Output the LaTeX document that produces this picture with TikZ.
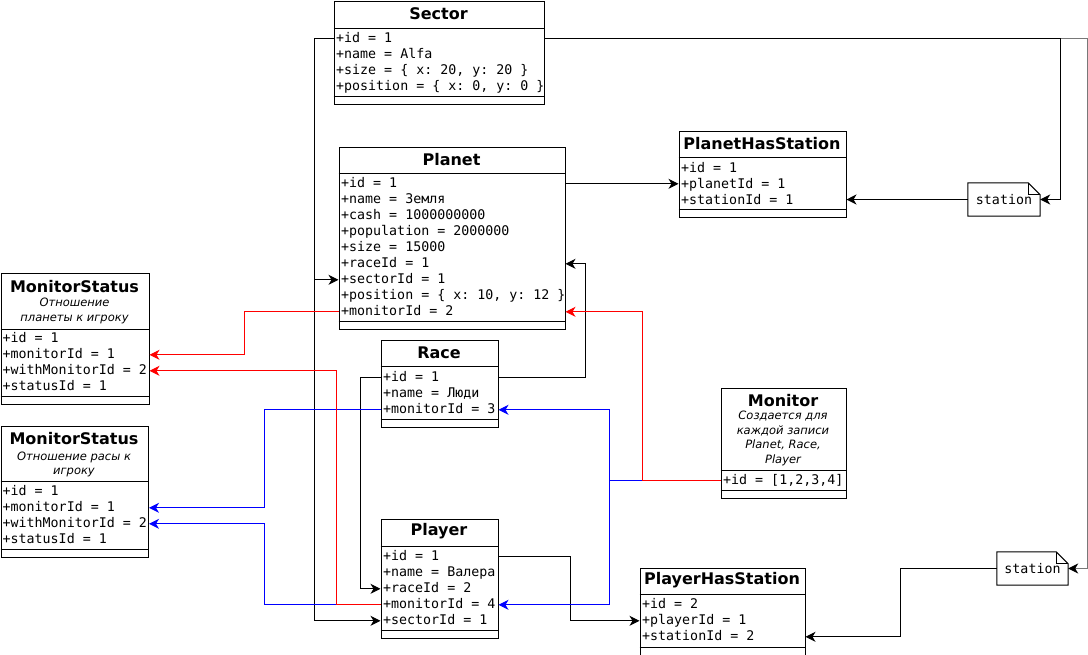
\documentclass[tikz,border=0pt]{standalone}
\usepackage{fontspec}
\setmainfont{DejaVu Sans}
\setmonofont{DejaVu Sans Mono}
\usetikzlibrary{arrows.meta}
\newcommand\ttlfont{\fontsize{16}{19}\selectfont\bfseries}
\newcommand\attrfont{\fontsize{13.3}{16}\selectfont\ttfamily}
\newcommand\cmtfont{\fontsize{11.5}{14.6}\selectfont\itshape}
\definecolor{edgegray}{RGB}{120,120,120}
\begin{document}
\begin{tikzpicture}[x=1pt,y=-1pt,
  box/.style={draw, line width=1pt, fill=white, inner sep=0pt, anchor=north west},
  ttl/.style={font=\ttlfont, inner sep=0pt},
  attr/.style={font=\attrfont, anchor=west, inner sep=0pt, text height=10pt, text depth=3pt, yshift=-0.8pt},
  cmt/.style={font=\cmtfont, align=center, inner sep=0pt},
  sep/.style={line width=1pt},
  notebox/.style={font=\attrfont, inner sep=0pt, text height=10pt, text depth=3pt},
  conn/.style={line width=1pt, -{Stealth[length=10pt,width=10pt,inset=3pt,color=black]}},
  redc/.style={line width=1pt, draw=red, -{Stealth[length=10pt,width=10pt,inset=3pt,color=red]}},
  bluec/.style={line width=1pt, draw=blue, -{Stealth[length=10pt,width=10pt,inset=3pt,color=blue]}}]
\useasboundingbox (0,0) rectangle (1088,654);

% ---- Sector
\node[box, minimum width=210pt, minimum height=103pt] (sector) at (333.5,0.5) {};
\node[ttl] (sector-t) at (438.5,13.5) {Sector};
\draw[sep] (333.5,28) -- (543.5,28);
\draw[sep] (333.5,96) -- (543.5,96);
\node[attr] (sec-id)   at (336,38) {+id = 1};
\node[attr] (sec-name) at (336,54) {+name = Alfa};
\node[attr] (sec-size) at (336,70) {+size = \{ x: 20, y: 20 \}};
\node[attr] (sec-pos)  at (336,86) {+position = \{ x: 0, y: 0 \}};

% ---- Planet
\node[box, minimum width=226pt, minimum height=182.5pt] (planet) at (338.5,146.5) {};
\node[ttl] (planet-t) at (451.5,159.5) {Planet};
\draw[sep] (338.5,173.5) -- (564.5,173.5);
\draw[sep] (338.5,321.5) -- (564.5,321.5);
\node[attr] (pl-id)     at (341,183) {+id = 1};
\node[attr] (pl-name)   at (341,199) {+name = Земля};
\node[attr] (pl-cash)   at (341,215) {+cash = 1000000000};
\node[attr] (pl-pop)    at (341,231) {+population = 2000000};
\node[attr] (pl-size)   at (341,247) {+size = 15000};
\node[attr] (pl-race)   at (341,263) {+raceId = 1};
\node[attr] (pl-sector) at (341,279) {+sectorId = 1};
\node[attr] (pl-pos)    at (341,295) {+position = \{ x: 10, y: 12 \}};
\node[attr] (pl-mon)    at (341,311) {+monitorId = 2};

% ---- PlanetHasStation
\node[box, minimum width=167pt, minimum height=86.5pt] (phs) at (678.5,130.5) {};
\node[ttl] (phs-t) at (762,143.5) {PlanetHasStation};
\draw[sep] (678.5,157.5) -- (845.5,157.5);
\draw[sep] (678.5,209.5) -- (845.5,209.5);
\node[attr] (ph-id)      at (681,168) {+id = 1};
\node[attr] (ph-planet)  at (681,184) {+planetId = 1};
\node[attr] (ph-station) at (681,200) {+stationId = 1};

% ---- MonitorStatus (planet)
\node[box, minimum width=148pt, minimum height=131.5pt] (ms1) at (0.5,272.5) {};
\node[ttl] (ms1-t) at (74.5,287) {MonitorStatus};
\node[cmt] (ms1-c) at (74.5,311) {Отношение\\планеты к игроку};
\draw[sep] (0.5,329.5) -- (148.5,329.5);
\draw[sep] (0.5,396.5) -- (148.5,396.5);
\node[attr] (m1-id)     at (2.5,338) {+id = 1};
\node[attr] (m1-mon)    at (2.5,354) {+monitorId = 1};
\node[attr] (m1-with)   at (2.5,370) {+withMonitorId = 2};
\node[attr] (m1-status) at (2.5,386) {+statusId = 1};

% ---- MonitorStatus (race)
\node[box, minimum width=147.5pt, minimum height=131.5pt] (ms2) at (0.5,425.5) {};
\node[ttl] (ms2-t) at (74,439) {MonitorStatus};
\node[cmt] (ms2-c) at (74,464.5) {Отношение расы к\\игроку};
\draw[sep] (0.5,481.5) -- (148,481.5);
\draw[sep] (0.5,549.5) -- (148,549.5);
\node[attr] (m2-id)     at (2.5,491) {+id = 1};
\node[attr] (m2-mon)    at (2.5,507) {+monitorId = 1};
\node[attr] (m2-with)   at (2.5,523) {+withMonitorId = 2};
\node[attr] (m2-status) at (2.5,539) {+statusId = 1};

% ---- Race
\node[box, minimum width=117pt, minimum height=87.5pt] (race) at (380.5,339.5) {};
\node[ttl] (race-t) at (439,352.5) {Race};
\draw[sep] (380.5,366.5) -- (497.5,366.5);
\draw[sep] (380.5,419.5) -- (497.5,419.5);
\node[attr] (rc-id)   at (383,377) {+id = 1};
\node[attr] (rc-name) at (383,393) {+name = Люди};
\node[attr] (rc-mon)  at (383,409) {+monitorId = 3};

% ---- Player
\node[box, minimum width=117pt, minimum height=119.5pt] (player) at (380.5,518.5) {};
\node[ttl] (player-t) at (439,531.5) {Player};
\draw[sep] (380.5,546.5) -- (497.5,546.5);
\draw[sep] (380.5,630.5) -- (497.5,630.5);
\node[attr] (pr-id)     at (383,556) {+id = 1};
\node[attr] (pr-name)   at (383,572) {+name = Валера};
\node[attr] (pr-race)   at (383,588) {+raceId = 2};
\node[attr] (pr-mon)    at (383,604) {+monitorId = 4};
\node[attr] (pr-sector) at (383,620) {+sectorId = 1};

% ---- Monitor
\node[box, minimum width=125pt, minimum height=110.5pt] (monitor) at (720.5,387.5) {};
\node[ttl] (monitor-t) at (783,400.5) {Monitor};
\node[cmt] (monitor-c) at (783,438.5) {Создается для\\каждой записи\\Planet, Race,\\Player};
\draw[sep] (720.5,470.5) -- (845.5,470.5);
\draw[sep] (720.5,490.5) -- (845.5,490.5);
\node[attr] (mn-id) at (723,480) {+id = [1,2,3,4]};

% ---- PlayerHasStation
\node[box, minimum width=165pt, minimum height=88pt] (phst) at (639.5,567.5) {};
\node[ttl] (phst-t) at (722,580.5) {PlayerHasStation};
\draw[sep] (639.5,594.5) -- (804.5,594.5);
\draw[sep] (639.5,647.5) -- (804.5,647.5);
\node[attr] (ps-id)      at (642,604) {+id = 2};
\node[attr] (ps-player)  at (642,620) {+playerId = 1};
\node[attr] (ps-station) at (642,636) {+stationId = 2};

% ---- station notes
\node[notebox, minimum width=72pt, minimum height=33pt] (st1) at (1004,199.5) {station};
\draw[line width=1pt, fill=white] (st1.north west) -- ([xshift=-12pt]st1.north east)
  -- ([yshift=-12pt]st1.north east) -- (st1.south east) -- (st1.south west) -- cycle;
\draw[line width=1pt] ([xshift=-12pt]st1.north east) |- ([yshift=-12pt]st1.north east);
\node[notebox] at ([yshift=-1.5pt]st1) {station};

\node[notebox, minimum width=71pt, minimum height=33pt] (st2) at (1032.5,568.5) {station};
\draw[line width=1pt, fill=white] (st2.north west) -- ([xshift=-12pt]st2.north east)
  -- ([yshift=-12pt]st2.north east) -- (st2.south east) -- (st2.south west) -- cycle;
\draw[line width=1pt] ([xshift=-12pt]st2.north east) |- ([yshift=-12pt]st2.north east);
\node[notebox] at ([yshift=-1pt]st2) {station};

% ---- black references
\draw[conn, draw=edgegray] (sector.east |- sec-id) -| ([xshift=19.5pt]st2.east) -- (st2.east);
\draw[conn] (sector.east |- sec-id) -| ([xshift=20pt]st1.east) -- (st1.east);
\draw[conn] (sector.west |- sec-id) -- ++(-19.5,0) |- (planet.west |- pl-sector);
\draw[conn] (sector.west |- sec-id) -- ++(-19.5,0) |- (player.west |- pr-sector);
\draw[conn] (planet.east |- pl-id) -- (phs.west |- pl-id);
\draw[conn] (st1.west) -- (phs.east |- st1.west);
\draw[conn] (race.east |- rc-id) -- ++(86.5,0) |- (planet.east |- pl-race);
\draw[conn] (race.west |- rc-id) -- ++(-20.5,0) |- (player.west |- pr-race);
\draw[conn] (player.east |- pr-id) -- ++(71.5,0) |- (phst.west |- ps-player);
\draw[conn] (st2.west) -- ++(-96,0) |- (phst.east |- ps-station);

% ---- monitor links (blue: race/player, red: planet)
\draw[bluec] (monitor.west |- mn-id) -- ++(-111.5,0) |- (race.east |- rc-mon);
\draw[bluec] (monitor.west |- mn-id) -- ++(-111.5,0) |- (player.east |- pr-mon);
\draw[bluec] (race.west |- rc-mon) -- ++(-116.5,0) |- (ms2.east |- m2-mon);
\draw[bluec] (player.west |- pr-mon) -- ++(-116.5,0) |- (ms2.east |- m2-with);
\draw[redc] (monitor.west |- mn-id) -- ++(-78.5,0) |- (planet.east |- pl-mon);
\draw[redc] (planet.west |- pl-mon) -- ++(-94.5,0) |- (ms1.east |- m1-mon);
\draw[redc] (player.west |- pr-mon) -- ++(-44.5,0) |- (ms1.east |- m1-with);
\end{tikzpicture}
\end{document}
